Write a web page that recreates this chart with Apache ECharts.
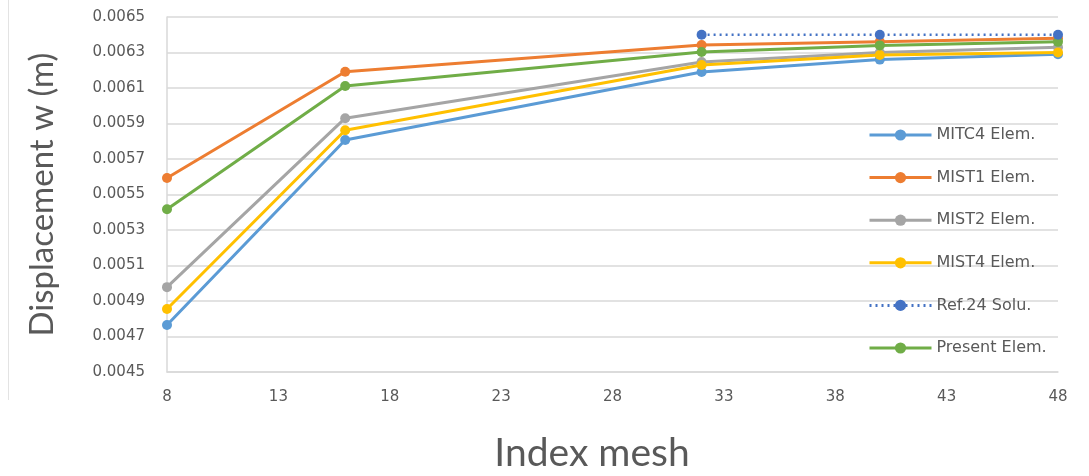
<!DOCTYPE html>
<html>
<head>
<meta charset="utf-8">
<script src="https://cdn.jsdelivr.net/npm/echarts@6/dist/echarts.min.js"></script>
<style>
  html, body { margin: 0; padding: 0; background: #fff; }
  #chart { width: 1089px; height: 476px; }
</style>
</head>
<body>
<div id="chart"></div>
<script>
// mesh index values
const meshX = [8, 16, 32, 40, 48];
const refX = [32, 40, 48];

// displacement w (m)
const mitc4 = [0.004765, 0.005807, 0.00619, 0.00626, 0.00629];
const mist1 = [0.005593, 0.006192, 0.006342, 0.00636, 0.00638];
const mist2 = [0.004978, 0.005930, 0.006246, 0.0063, 0.00633];
const mist4 = [0.004855, 0.005862, 0.00623, 0.006286, 0.0063];
const ref24 = [0.0064, 0.0064, 0.0064];
const present = [0.005417, 0.006111, 0.006303, 0.00634, 0.00636];

// axis ranges
const xMin = 8, xMax = 48, xStep = 5;
const yMin = 0.0045, yMax = 0.0065, yStep = 0.0002;

const font = 'Lato';
const small = 'DejaVu Sans';
const txt = '#595959';

// axes are offset so ticks start at 0 (8 -> 0, 0.0045 -> 0)
const pts = (xs, ys) => xs.map((x, i) => [x - xMin, ys[i] - yMin]);

const mk = (name, xs, ys, color, dotted) => ({
  name: name,
  type: 'line',
  data: pts(xs, ys),
  symbol: 'circle',
  symbolSize: 10,
  lineStyle: { color: color, width: dotted ? 2.5 : 3, type: dotted ? [2, 4] : 'solid' },
  itemStyle: { color: color },
  emphasis: { disabled: true },
  z: dotted ? 3 : 2
});

const chart = echarts.init(document.getElementById('chart'));
chart.setOption({
  animation: false,
  textStyle: { fontFamily: font },
  title: {
    text: 'Index mesh',
    left: 587,
    top: 429,
    textAlign: 'center',
    textStyle: { fontFamily: font, fontSize: 39, fontWeight: 'normal', color: txt }
  },
  graphic: [{
    type: 'line',
    shape: { x1: 8.5, y1: 0, x2: 8.5, y2: 400 },
    style: { stroke: '#e3e3e3', lineWidth: 1 }
  }],
  grid: { left: 167, right: 31, top: 17, bottom: 104 },
  legend: {
    orient: 'vertical',
    left: 868,
    top: 126.5,
    padding: 0,
    itemWidth: 62,
    itemHeight: 14,
    itemGap: 25.6,
    lineStyle: { width: 3 },
    textStyle: { fontFamily: small, fontSize: 16, lineHeight: 17, color: txt },
    data: ['MITC4 Elem.', 'MIST1 Elem.', 'MIST2 Elem.', 'MIST4 Elem.', 'Ref.24 Solu.', 'Present Elem.']
  },
  xAxis: {
    type: 'value',
    min: 0,
    max: xMax - xMin,
    interval: xStep,
    axisLine: { show: true, lineStyle: { color: '#d9d9d9', width: 1.5 } },
    axisTick: { show: false },
    splitLine: { show: false },
    axisLabel: {
      margin: 18,
      fontSize: 15,
      color: txt,
      fontFamily: small,
      formatter: v => String(v + xMin)
    }
  },
  yAxis: {
    type: 'value',
    min: 0,
    max: +(yMax - yMin).toFixed(4),
    interval: yStep,
    name: 'Displacement w (m)',
    nameLocation: 'middle',
    nameGap: 108,
    nameTextStyle: { fontFamily: font, fontSize: 33, color: txt },
    axisLine: { show: true, lineStyle: { color: '#d9d9d9', width: 1.5 } },
    axisTick: { show: false },
    splitLine: { lineStyle: { color: '#d9d9d9', width: 1.5 } },
    axisLabel: {
      margin: 22,
      fontSize: 15,
      color: txt,
      fontFamily: small,
      formatter: v => (v + yMin).toFixed(4)
    }
  },
  series: [
    mk('MITC4 Elem.', meshX, mitc4, '#5b9bd5'),
    mk('MIST1 Elem.', meshX, mist1, '#ed7d31'),
    mk('MIST2 Elem.', meshX, mist2, '#a5a5a5'),
    mk('MIST4 Elem.', meshX, mist4, '#ffc000'),
    mk('Ref.24 Solu.', refX, ref24, '#4472c4', true),
    mk('Present Elem.', meshX, present, '#70ad47')
  ]
});
</script>
</body>
</html>
